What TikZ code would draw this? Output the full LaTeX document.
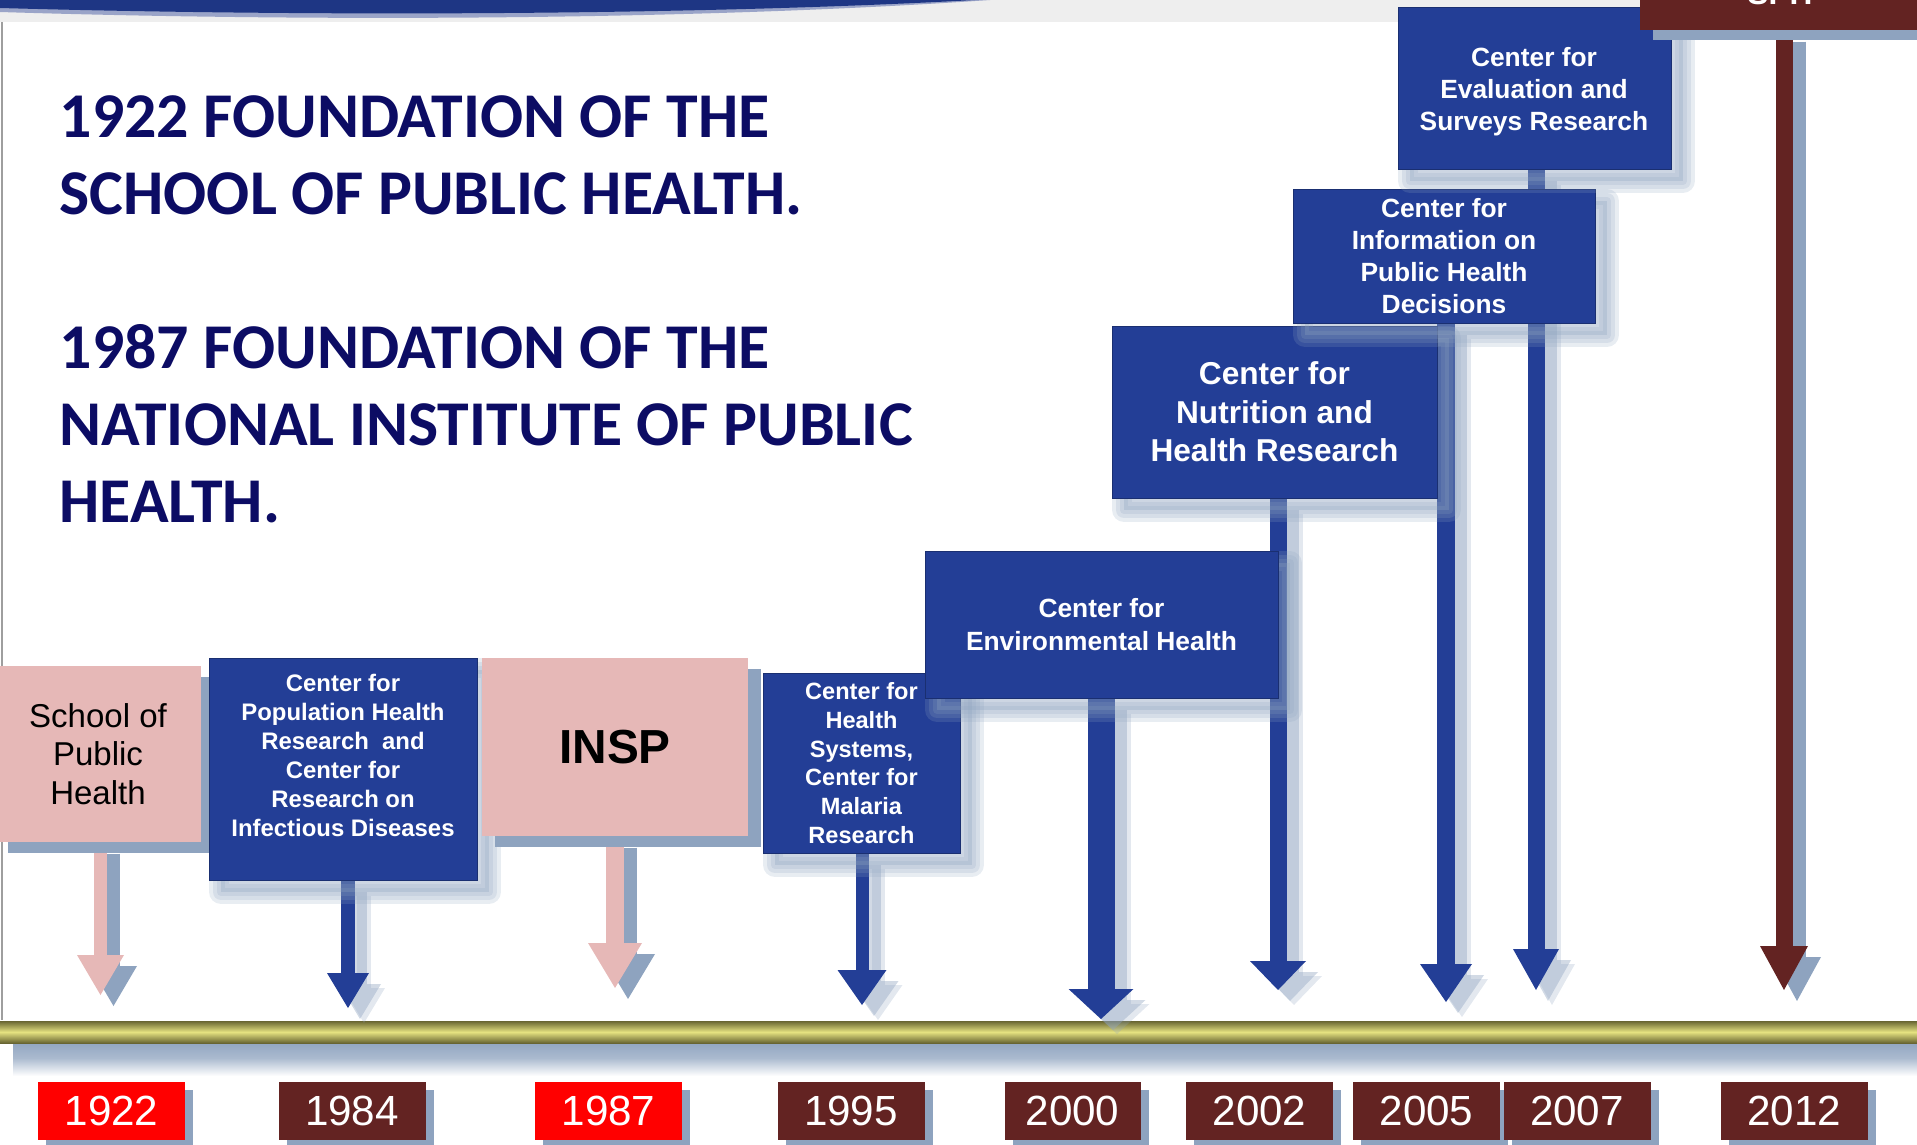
\documentclass[tikz,border=0pt]{standalone}
\usepackage{fontspec}
\setmainfont{Liberation Sans}
\newfontfamily\headfont{Carlito}
\usetikzlibrary{arrows.meta,backgrounds}

\definecolor{insppink}{RGB}{230,184,183}
\definecolor{centreblue}{RGB}{35,62,150}
\definecolor{yearbrown}{RGB}{99,35,34}
\definecolor{yearred}{RGB}{255,0,0}
\definecolor{shadowblue}{RGB}{142,163,191}
\definecolor{headnavy}{RGB}{12,12,100}
\definecolor{barolive}{RGB}{104,101,50}
\definecolor{baryellow}{RGB}{229,226,128}
\definecolor{topgray}{RGB}{238,238,238}
\definecolor{swooshblue}{RGB}{30,54,132}

\tikzset{
  hardshadow/.style={preaction={fill=shadowblue, transform canvas={shift={(#1)}}}},
  softshadow/.style={
    preaction={draw=shadowblue, opacity=.2, line width=2.4mm, line join=round,
      transform canvas={shift={(1.2mm,-1.2mm)}}},
    preaction={draw=shadowblue, opacity=.2, line width=1.6mm, line join=round,
      transform canvas={shift={(1.2mm,-1.2mm)}}},
    preaction={draw=shadowblue, opacity=.2, line width=0.8mm, line join=round,
      transform canvas={shift={(1.2mm,-1.2mm)}}},
    preaction={fill=shadowblue, opacity=.3,
      transform canvas={shift={(1.2mm,-1.2mm)}}}},
  heading/.style={anchor=base west, align=left, inner sep=0, text=headnavy,
    font=\headfont\bfseries\fontsize{18.15}{21.9}\selectfont},
  pinkbox/.style={fill=insppink, text=black, align=center, inner sep=0,
    hardshadow={1.3mm,-1.1mm}},
  centrebox/.style={fill=centreblue, draw=centreblue!75!black, line width=0.1mm,
    text=white, align=center, inner sep=0, softshadow},
  centretext/.style={text=white, align=center, inner sep=0},
  yearbox/.style={text=white, inner sep=0, minimum height=5.8mm,
    font=\fontsize{12}{14}\selectfont, hardshadow={0.8mm,-0.8mm}}
}

\begin{document}
\begin{tikzpicture}[x=0.1mm, y=-0.1mm]
  \useasboundingbox (0,0) rectangle (1917,1145);

  % top strip with the swoosh
  \fill[topgray] (0,0) rectangle (1917,22);
  \fill[swooshblue!45] (0,0) -- (0,12) .. controls (320,22) and (700,20) .. (990,0) -- cycle;
  \fill[swooshblue] (0,0) -- (0,8) .. controls (320,17) and (700,15) .. (975,0) -- cycle;
  % thin rule on the left
  \draw[black!38, line width=0.3mm] (2,22) -- (2,1020);

  % headings (anchored on the last line)
  \node[heading] (h1922) at (59,214) {1922 FOUNDATION OF THE\\SCHOOL OF PUBLIC HEALTH.};
  \node[heading] (h1987) at (59,522) {1987 FOUNDATION OF THE\\NATIONAL INSTITUTE OF PUBLIC\\HEALTH.};

  % boxes, left to right
  \node[pinkbox, minimum width=20.6mm, minimum height=17.6mm,
    font=\fontsize{9.4}{10.9}\selectfont] (bSchool) at (98,754) {School of\\Public\\Health};
  \node[centrebox, minimum width=26.8mm, minimum height=22.2mm] (bPop) at (343,769) {};
  \node[centretext, font=\bfseries\fontsize{6.8}{8.25}\selectfont] (lPop) at (343,755)
    {Center for\\Population Health\\Research\ \ and\\Center for\\Research on\\Infectious Diseases};
  \node[pinkbox, minimum width=26.6mm, minimum height=17.8mm,
    font=\bfseries\fontsize{13.6}{16}\selectfont] (bInsp) at (615,747) {INSP};
  \node[centrebox, minimum width=19.7mm, minimum height=18mm,
    font=\bfseries\fontsize{6.7}{8.2}\selectfont] (bSys) at (861.5,763)
    {Center for\\Health\\Systems,\\Center for\\Malaria\\Research};
  \node[centrebox, minimum width=35.3mm, minimum height=14.7mm,
    font=\bfseries\fontsize{7.5}{9.3}\selectfont] (bEnv) at (1101.5,624.5)
    {Center for\\Environmental Health};
  \node[centrebox, minimum width=32.5mm, minimum height=17.2mm,
    font=\bfseries\fontsize{9}{10.9}\selectfont] (bNut) at (1274.5,412)
    {Center for\\Nutrition and\\Health Research};
  \node[centrebox, minimum width=30.2mm, minimum height=13.4mm,
    font=\bfseries\fontsize{7.5}{9.05}\selectfont] (bInfo) at (1444,256)
    {Center for\\Information on\\Public Health\\Decisions};
  \node[centrebox, minimum width=27.3mm, minimum height=16.2mm] (bEval) at (1534.5,88) {};
  \node[centretext, font=\bfseries\fontsize{7.5}{9.1}\selectfont] (lEval) at (1534,92)
    {Center for\\Evaluation and\\Surveys Research};
  \node[fill=yearbrown, hardshadow={1.3mm,-1mm}, minimum width=28.8mm, minimum height=13mm,
    inner sep=0] (bSph) at (1784,-35) {};
  \node[centretext, anchor=base, font=\bfseries\fontsize{9}{10.8}\selectfont] (lSph) at (1780,5) {SPH};

  % year labels under the time line
  \foreach \yr/\xc/\bw/\col in {1922/111.5/14.7/yearred, 1984/352/14.7/yearbrown,
      1987/608.5/14.7/yearred, 1995/851/14.7/yearbrown, 2000/1072.5/13.6/yearbrown,
      2002/1259.5/14.7/yearbrown, 2005/1426.5/14.7/yearbrown, 2007/1577/14.7/yearbrown,
      2012/1794/14.7/yearbrown}
    \node[yearbox, fill=\col, minimum width=\bw mm] (y\yr) at (\xc,1111) {\yr};

  % arrow tips just above the time line
  \coordinate (t1922) at (100.5,995);
  \coordinate (t1984) at (348,1008);
  \coordinate (t1987) at (615,988);
  \coordinate (t1995) at (862,1005);
  \coordinate (t2000) at (1101,1019);
  \coordinate (t2002) at (1278,990);
  \coordinate (t2005) at (1446,1002);
  \coordinate (t2007) at (1536,990);
  \coordinate (t2012) at (1784,990);

  \begin{scope}[on background layer]
    % time line and its shadow
    \shade[top color=shadowblue, bottom color=white, middle color=shadowblue!75]
      (13,1040) rectangle (1917,1076);
    \shade[top color=barolive, bottom color=barolive, middle color=baryellow]
      (0,1021) rectangle (1917,1043);

    % blue arrows, soft shadow
    \foreach \from/\tip/\sw/\hwid/\hlen in {bPop/t1984/1.4/4.2/3.5, bSys/t1995/1.3/4.9/3.5,
        bEnv/t2000/2.7/6.5/3.0, bNut/t2002/1.7/5.6/2.9, bInfo/t2005/1.8/5.2/3.8,
        bEval/t2007/1.7/4.6/4.1} {
      \draw[shadowblue, opacity=.25, line width=\sw mm,
        -{Triangle[width=\hwid mm, length=\hlen mm, line width=0pt]},
        transform canvas={shift={(1.6mm,-1.5mm)}}] (\from.south -| \tip) -- (\tip);
      \draw[shadowblue, opacity=.4, line width=\sw mm,
        -{Triangle[width=\hwid mm, length=\hlen mm, line width=0pt]},
        transform canvas={shift={(1.2mm,-1.1mm)}}] (\from.south -| \tip) -- (\tip);
      \draw[centreblue, line width=\sw mm,
        -{Triangle[width=\hwid mm, length=\hlen mm, line width=0pt]}] (\from.south -| \tip) -- (\tip);
    }
    % pink and brown arrows, hard shadow
    \foreach \from/\tip/\sw/\hwid/\hlen/\col in {bSchool/t1922/1.3/4.7/4.0/insppink,
        bInsp/t1987/1.8/5.4/4.5/insppink, bSph/t2012/1.7/4.8/4.4/yearbrown} {
      \draw[shadowblue, line width=\sw mm,
        -{Triangle[width=\hwid mm, length=\hlen mm, line width=0pt]},
        transform canvas={shift={(1.3mm,-1.1mm)}}] (\from.south -| \tip) -- (\tip);
      \draw[\col, line width=\sw mm,
        -{Triangle[width=\hwid mm, length=\hlen mm, line width=0pt]}] (\from.south -| \tip) -- (\tip);
    }
  \end{scope}
\end{tikzpicture}
\end{document}
